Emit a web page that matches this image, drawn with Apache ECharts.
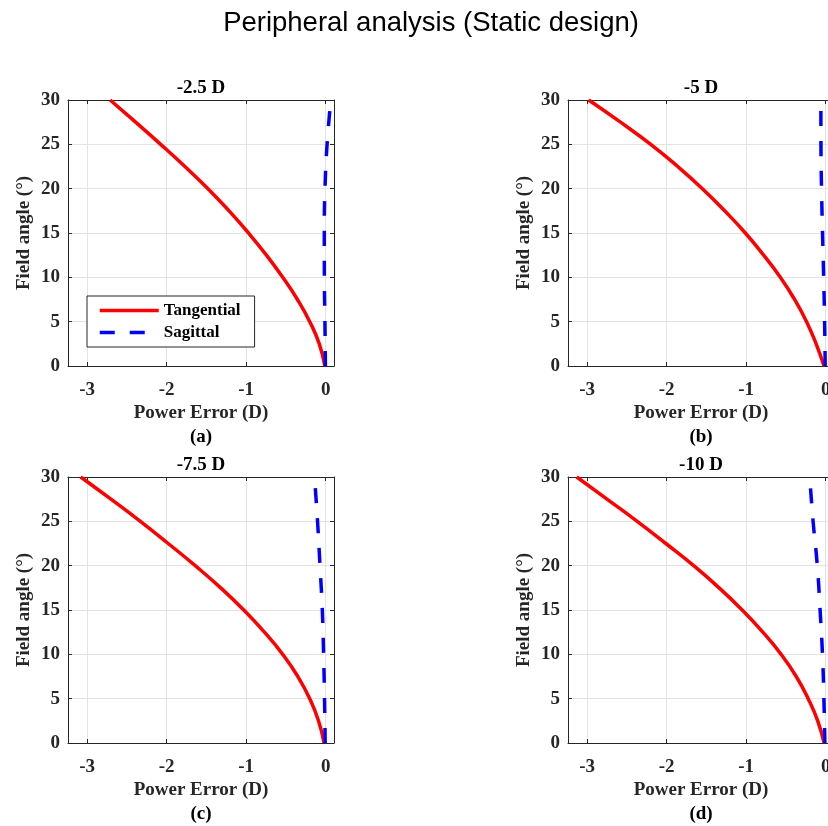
<!DOCTYPE html>
<html lang="en">
<head>
    <meta charset="UTF-8">
    <title>Peripheral analysis (Static design)</title>
    <script src="https://cdn.jsdelivr.net/npm/echarts@6/dist/echarts.min.js"></script>
    <style>
        * {
            margin: 0;
            padding: 0;
        }

        body {
            background: #fff;
        }

        #chart {
            width: 828px;
            height: 826px;
        }
    </style>
</head>
<body>
<div id="chart"></div>

<script>
    // field angle (deg) where the tangential curve was read
    var angles = [0, 2.5, 5, 7.5, 10, 12.5, 15, 17.5, 20, 22.5, 25, 27.5, 30];
    // tangential power error (D) for each design
    var tangA = [-0.01, -0.08, -0.2, -0.355, -0.54, -0.745, -0.97, -1.215, -1.48, -1.77, -2.075, -2.39, -2.71];
    var tangB = [-0.02, -0.12, -0.24, -0.39, -0.57, -0.78, -1.01, -1.27, -1.55, -1.86, -2.2, -2.58, -2.98];
    var tangC = [-0.02, -0.09, -0.2, -0.35, -0.54, -0.77, -1.03, -1.32, -1.64, -1.98, -2.33, -2.7, -3.08];
    var tangD = [-0.02, -0.1, -0.22, -0.37, -0.56, -0.79, -1.05, -1.34, -1.66, -2.01, -2.37, -2.75, -3.13];

    // sagittal power error (D)
    var sagAngles = [0, 5, 10, 15, 20, 25, 30];
    var sagA = [-0.003, -0.009, -0.016, -0.017, -0.008, 0.018, 0.065];
    var sagB = [-0.006, -0.013, -0.025, -0.039, -0.052, -0.059, -0.06];
    var sagC = [-0.006, -0.014, -0.026, -0.042, -0.071, -0.102, -0.14];
    var sagD = [-0.01, -0.022, -0.04, -0.07, -0.105, -0.158, -0.2];

    var panelTitles = ['-2.5 D', '-5 D', '-7.5 D', '-10 D'];
    var panelTags = ['(a)', '(b)', '(c)', '(d)'];

    var serif = '"Liberation Serif", "Times New Roman", serif';
    var axisColor = '#262626';

    var panels = [
        {left: 68, top: 100, tang: tangA, sag: sagA},
        {left: 568, top: 100, tang: tangB, sag: sagB},
        {left: 68, top: 477, tang: tangC, sag: sagC},
        {left: 568, top: 477, tang: tangD, sag: sagD}
    ];
    var xMin = -3.24, xMax = 0.105, W = 266, H = 266;

    var chart = echarts.init(document.getElementById('chart'));

    var grids = [], xAxes = [], yAxes = [], series = [], texts = [];

    texts.push({
        type: 'text', x: 431, y: 23,
        style: {
            text: 'Peripheral analysis (Static design)',
            font: '27.5px "Liberation Sans", Arial, sans-serif',
            fill: '#000',
            textAlign: 'center', textVerticalAlign: 'middle',
            align: 'center', verticalAlign: 'middle'
        }
    });

    function labelFmt(v) {
        return Math.abs(v - Math.round(v)) < 1e-6 ? String(Math.round(v)) : '';
    }

    panels.forEach(function (p, i) {
        // right column runs past the figure edge, like the original
        grids.push({
            left: p.left, top: p.top, width: W, height: H,
            containLabel: false, outerBoundsMode: 'none'
        });

        // bottom axis with labels
        xAxes.push({
            type: 'value', gridIndex: i, position: 'bottom',
            min: xMin, max: xMax, splitNumber: 3,
            name: 'Power Error (D)', nameLocation: 'middle', nameGap: 38,
            nameTextStyle: {fontFamily: serif, fontWeight: 'bold', fontSize: 19, color: axisColor},
            axisLine: {show: true, onZero: false, lineStyle: {color: axisColor, width: 1}},
            axisTick: {show: true, inside: true, length: 4, lineStyle: {color: axisColor}},
            axisLabel: {
                fontFamily: serif, fontWeight: 'bold', fontSize: 19, color: axisColor,
                margin: 15, formatter: labelFmt, showMinLabel: false, showMaxLabel: false
            },
            splitLine: {show: true, lineStyle: {color: '#e3e3e3', width: 1}}
        });
        // top box edge
        xAxes.push({
            type: 'value', gridIndex: i, position: 'top',
            min: xMin, max: xMax, splitNumber: 3,
            axisLine: {show: true, onZero: false, lineStyle: {color: axisColor, width: 1}},
            axisTick: {show: true, inside: true, length: 4, lineStyle: {color: axisColor}},
            axisLabel: {show: false},
            splitLine: {show: false}
        });

        yAxes.push({
            type: 'value', gridIndex: i, position: 'left',
            min: 0, max: 30, interval: 5,
            name: 'Field angle (°)', nameLocation: 'middle', nameGap: 34,
            nameTextStyle: {fontFamily: serif, fontWeight: 'bold', fontSize: 19, color: axisColor},
            axisLine: {show: true, onZero: false, lineStyle: {color: axisColor, width: 1}},
            axisTick: {show: true, inside: true, length: 4, lineStyle: {color: axisColor}},
            axisLabel: {fontFamily: serif, fontWeight: 'bold', fontSize: 19, color: axisColor, margin: 8},
            splitLine: {show: true, lineStyle: {color: '#e3e3e3', width: 1}}
        });
        yAxes.push({
            type: 'value', gridIndex: i, position: 'right',
            min: 0, max: 30, interval: 5,
            axisLine: {show: true, onZero: false, lineStyle: {color: axisColor, width: 1}},
            axisTick: {show: true, inside: true, length: 4, lineStyle: {color: axisColor}},
            axisLabel: {show: false},
            splitLine: {show: false}
        });

        series.push({
            name: 'Tangential', type: 'line',
            xAxisIndex: i * 2, yAxisIndex: i * 2,
            data: angles.map(function (a, k) { return [p.tang[k], a]; }),
            symbol: 'none', smooth: 0.5,
            lineStyle: {color: '#ff0000', width: 3.5},
            itemStyle: {color: '#ff0000'},
            z: 3
        });
        series.push({
            name: 'Sagittal', type: 'line',
            xAxisIndex: i * 2, yAxisIndex: i * 2,
            data: sagAngles.map(function (a, k) { return [p.sag[k], a]; }),
            symbol: 'none', smooth: 0.5,
            lineStyle: {color: '#0000ff', width: 3.5, type: [15, 15]},
            itemStyle: {color: '#0000ff'},
            z: 3
        });

        texts.push({
            type: 'text', x: p.left + 133, y: p.top - 12,
            style: {
                text: panelTitles[i],
                font: 'bold 19px ' + serif, fill: '#000',
                textAlign: 'center', textVerticalAlign: 'middle',
                align: 'center', verticalAlign: 'middle'
            }
        });
        texts.push({
            type: 'text', x: p.left + 133, y: p.top + H + 71,
            style: {
                text: panelTags[i],
                font: 'bold 19px ' + serif, fill: '#000',
                textAlign: 'center', textVerticalAlign: 'middle',
                align: 'center', verticalAlign: 'middle'
            }
        });
    });

    var option = {
        backgroundColor: '#fff',
        animation: false,
        grid: grids,
        xAxis: xAxes,
        yAxis: yAxes,
        series: series,
        graphic: {elements: texts},
        legend: {
            data: ['Tangential', 'Sagittal'],
            orient: 'vertical',
            left: 87, top: 296,
            itemWidth: 59, itemHeight: 14, itemGap: 5,
            padding: [6, 14, 6, 11],
            backgroundColor: '#fff',
            borderColor: axisColor, borderWidth: 1,
            itemStyle: {color: 'rgba(0,0,0,0)', borderColor: 'rgba(0,0,0,0)', borderWidth: 0, opacity: 0},
            lineStyle: {width: 3.5},
            textStyle: {fontFamily: serif, fontWeight: 'bold', fontSize: 17, color: '#000'},
            selectedMode: false
        }
    };
    chart.setOption(option);
</script>
</body>
</html>
